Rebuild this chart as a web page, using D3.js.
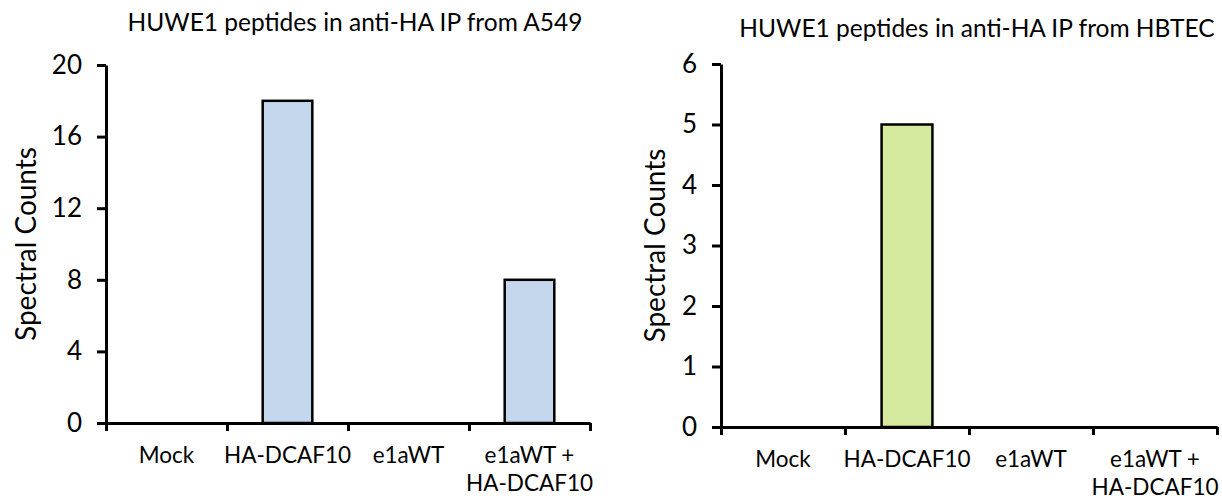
<!DOCTYPE html>
<html>
<head>
<meta charset="utf-8">
<script src="https://cdn.jsdelivr.net/npm/d3@7"></script>
<style>
  body { margin: 0; background: #fff; }
  svg { display: block; }
  text { font-family: Lato, "Open Sans", sans-serif; fill: #000; }
  .axis path, .axis line { stroke: #000; stroke-width: 3; }
  .bar { stroke: #000; stroke-width: 2.5; }
  .tick text { font-size: 26px; }
  .title { font-size: 24.5px; }
  .y-label { font-size: 28px; }
  .x-label { font-size: 22.5px; }
</style>
</head>
<body>
<svg id="chart" width="1222" height="502"></svg>
<script>
// categories, one array of text lines per bar
var categories = [["Mock"], ["HA-DCAF10"], ["e1aWT"], ["e1aWT +", "HA-DCAF10"]];

var a549Counts = [0, 18, 0, 8];
var hbtecCounts = [0, 5, 0, 0];

var a549Ticks = [0, 4, 8, 12, 16, 20];
var hbtecTicks = [0, 1, 2, 3, 4, 5, 6];

var a549Title = "HUWE1 peptides in anti-HA IP from A549";
var hbtecTitle = "HUWE1 peptides in anti-HA IP from HBTEC";
var yLabel = "Spectral Counts";

var svg = d3.select("#chart");

function drawPanel(p) {
  var g = svg.append("g");

  var y = d3.scaleLinear()
    .domain([0, d3.max(p.ticks)])
    .range([p.bottom, p.top]);

  var x = d3.scaleBand()
    .domain(d3.range(categories.length))
    .range([p.left, p.right])
    .paddingInner(0.59)
    .paddingOuter(0.295);

  // category boundaries, for the x tick marks
  var edges = d3.scaleLinear()
    .domain([0, categories.length])
    .range([p.left, p.right]);

  var bars = p.values.map((v, i) => ({i: i, v: v})).filter(d => d.v > 0);

  g.selectAll(".bar")
    .data(bars)
    .join("rect")
    .attr("class", "bar")
    .attr("x", d => x(d.i))
    .attr("width", x.bandwidth())
    .attr("y", d => y(d.v))
    .attr("height", d => y(0) - y(d.v))
    .attr("fill", p.color);

  g.append("g")
    .attr("class", "axis")
    .attr("transform", `translate(${p.left},0)`)
    .call(d3.axisLeft(y).tickValues(p.ticks).tickFormat(d3.format("d"))
      .tickSize(9).tickSizeOuter(0).tickPadding(15));

  g.append("g")
    .attr("class", "axis")
    .attr("transform", `translate(0,${p.bottom})`)
    .call(d3.axisBottom(edges).tickValues(d3.range(categories.length + 1))
      .tickSize(8).tickSizeOuter(0).tickFormat(""));

  var labels = g.selectAll(".x-label")
    .data(categories)
    .join("text")
    .attr("class", "x-label")
    .attr("text-anchor", "middle")
    .attr("y", p.bottom + 40);

  labels.selectAll("tspan")
    .data((d, i) => d.map(line => ({line: line, i: i})))
    .join("tspan")
    .attr("x", d => x(d.i) + x.bandwidth() / 2)
    .attr("dy", (d, j) => j == 0 ? 0 : 28)
    .text(d => d.line);

  g.append("text")
    .attr("class", "title")
    .attr("text-anchor", "middle")
    .attr("x", p.titleX)
    .attr("y", p.titleY)
    .text(p.title);

  g.append("text")
    .attr("class", "y-label")
    .attr("text-anchor", "middle")
    .attr("transform", `translate(${p.labelX},${(p.top + p.bottom) / 2}) rotate(-90)`)
    .text(yLabel);
}

drawPanel({
  values: a549Counts, ticks: a549Ticks, title: a549Title, color: "#c5d7ec",
  left: 106, right: 590, top: 65, bottom: 423,
  titleX: 355, titleY: 31, labelX: 36
});

drawPanel({
  values: hbtecCounts, ticks: hbtecTicks, title: hbtecTitle, color: "#d5ea9e",
  left: 721, right: 1217, top: 64, bottom: 427,
  titleX: 977, titleY: 37, labelX: 665
});
</script>
</body>
</html>
